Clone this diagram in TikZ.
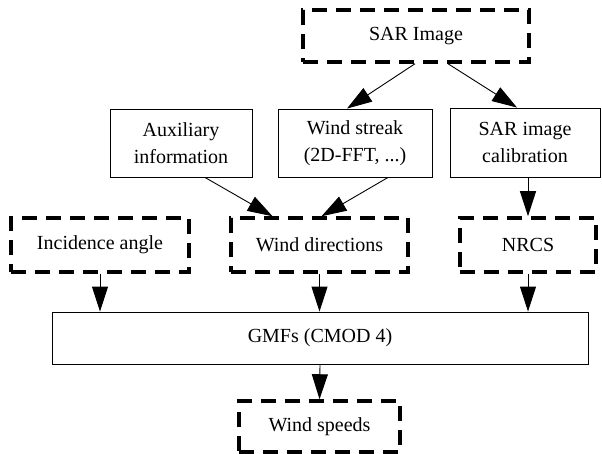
\documentclass[tikz,border=0pt]{standalone}
\usepackage{fontspec}
\setmainfont{Liberation Serif}
\usetikzlibrary{arrows.meta}

\tikzset{
  sbox/.style={draw,line width=0.9pt,inner sep=0pt,align=center,font=\fontsize{20}{27}\selectfont},
  dbox/.style={sbox,line width=3.5pt,dash pattern=on 15pt off 9pt},
  arr/.style={line width=0.9pt,-{Triangle[length=25pt,width=16pt]}}
}

\begin{document}
\begin{tikzpicture}[x=1pt,y=-1pt]
\useasboundingbox (0,0) rectangle (602,454);

\node[dbox,minimum width=226pt,minimum height=52pt] (sar) at (416,36) {SAR Image};

\node[sbox,minimum width=142pt,minimum height=68pt] (aux) at (181,143) {Auxiliary\\information};
\node[sbox,minimum width=154pt,minimum height=68pt] (streak) at (355,143) {Wind streak\\(2D-FFT, ...)};
\node[sbox,minimum width=150pt,minimum height=69pt] (calib) at (525,142.5) {SAR image\\calibration};

\node[dbox,minimum width=178pt,minimum height=54pt] (inc) at (100,245) {Incidence angle};
\node[dbox,minimum width=177pt,minimum height=54pt] (wdir) at (319.5,245) {Wind directions};
\node[dbox,minimum width=136pt,minimum height=54pt] (nrcs) at (528,245) {NRCS};

\node[sbox,minimum width=536pt,minimum height=52pt] (gmf) at (320,338) {GMFs (CMOD 4)};
\node[dbox,minimum width=161pt,minimum height=51pt] (speed) at (319.5,426.5) {Wind speeds};

\draw[arr] ([xshift=-1pt]sar.south) -- ([xshift=-8pt]streak.north);
\draw[arr] ([xshift=32pt]sar.south) -- ([xshift=-8pt]calib.north);
\draw[arr] ([xshift=24pt]aux.south) -- ([xshift=-47pt]wdir.north);
\draw[arr] ([xshift=33pt]streak.south) -- ([xshift=2pt]wdir.north);
\draw[arr] ([xshift=3pt]calib.south) -- (nrcs.north);
\foreach \n in {inc,wdir,nrcs}
  \draw[arr] (\n.south) -- (gmf.north -| \n.south);
\draw[arr] (gmf.south) -- (speed.north);
\end{tikzpicture}
\end{document}
